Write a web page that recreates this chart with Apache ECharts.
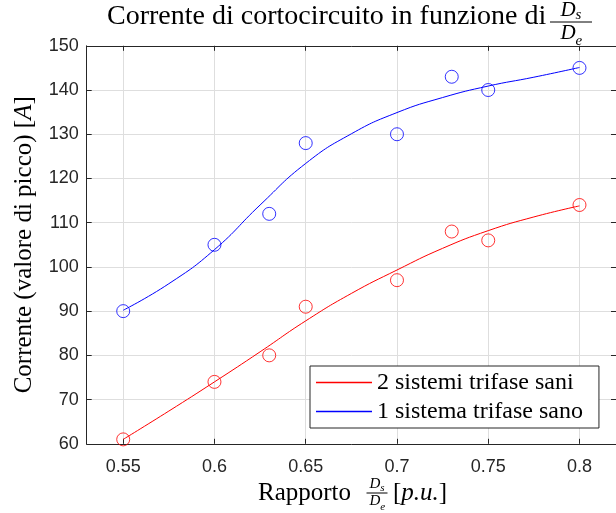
<!DOCTYPE html>
<html>
<head>
<meta charset="utf-8">
<script src="https://cdn.jsdelivr.net/npm/echarts@6/dist/echarts.min.js"></script>
<style>
  html, body { margin: 0; padding: 0; background: #fff; }
  #chart { width: 616px; height: 513px; }
</style>
</head>
<body>
<div id="chart"></div>
<script>
// Measured short-circuit peak currents vs. the Ds/De ratio
const ratio = [0.55, 0.60, 0.63, 0.65, 0.70, 0.73, 0.75, 0.80];
const twoSystems = [61, 74, 80, 91, 97, 108, 106, 114];
const oneSystem = [90, 105, 112, 128, 130, 143, 140, 145];

// Fitted trend curves, sampled along the ratio axis
const fitRatio = [0.55, 0.575, 0.60, 0.625, 0.65, 0.675, 0.70, 0.725, 0.75, 0.775, 0.80];
const fitTwoSystems = [61.0, 67.4, 74.0, 80.8, 87.8, 94.0, 99.3, 104.2, 108.2, 111.3, 113.8];
const fitOneSystem = [90.2, 96.2, 103.9, 114.0, 123.4, 130.1, 134.9, 138.3, 140.9, 142.9, 145.1];

// Axis ticks
const xTicks = [0.55, 0.60, 0.65, 0.70, 0.75, 0.80];
const xTickLabels = ['0.55', '0.6', '0.65', '0.7', '0.75', '0.8'];

const seriesNames = ['2 sistemi trifase sani', '1 sistema trifase sano'];

const RED = '#ff0000';
const BLUE = '#0000ff';
const AXIS = '#262626';
const GRID = '#dedede';
const SERIF = '"Liberation Serif", "Times New Roman", serif';
const SANS = '"Liberation Sans", Arial, Helvetica, sans-serif';

const pairs = (xs, ys) => xs.map((x, i) => [x, ys[i]]);

// stacked D_s / D_e fraction built from text pieces
function fraction(cx, cy, size, barW) {
  const sub = Math.round(size * 0.7);
  const font = `italic ${size}px ${SERIF}`;
  const subFont = `italic ${sub}px ${SERIF}`;
  const dW = size * 0.72;
  const left = cx - (dW + sub * 0.4) / 2;
  return [
    { type: 'line', shape: { x1: cx - barW / 2, y1: cy, x2: cx + barW / 2, y2: cy },
      style: { stroke: '#000', lineWidth: 1 } },
    { type: 'text', x: left, y: cy - 1, style: { text: 'D', font, fill: '#000', verticalAlign: 'bottom' } },
    { type: 'text', x: left + dW, y: cy + 1, style: { text: 's', font: subFont, fill: '#000', verticalAlign: 'bottom' } },
    { type: 'text', x: left, y: cy + 1, style: { text: 'D', font, fill: '#000', verticalAlign: 'top' } },
    { type: 'text', x: left + dW, y: cy + size * 0.55, style: { text: 'e', font: subFont, fill: '#000', verticalAlign: 'top' } }
  ];
}

const chart = echarts.init(document.getElementById('chart'), null, { renderer: 'canvas' });

const xCommon = {
  type: 'value', min: 0.53, max: 0.82,
  axisLine: { show: true, lineStyle: { color: AXIS, width: 1 } },
  axisTick: { show: true, inside: true, length: 5, customValues: xTicks, lineStyle: { color: AXIS } }
};
const yCommon = {
  type: 'value', min: 60, max: 150, interval: 10,
  axisLine: { show: true, lineStyle: { color: AXIS, width: 1 } },
  axisTick: { show: true, inside: true, length: 5, lineStyle: { color: AXIS } }
};

chart.setOption({
  animation: false,
  backgroundColor: '#fff',
  grid: { left: 86.7, top: 45.8, width: 531, height: 398, containLabel: false },
  xAxis: [
    Object.assign({}, xCommon, {
      position: 'bottom',
      axisLabel: {
        show: true, customValues: xTicks, margin: 14,
        formatter: v => xTickLabels[xTicks.findIndex(t => Math.abs(t - v) < 1e-9)],
        color: AXIS, fontFamily: SANS, fontSize: 18
      },
      splitLine: { show: true, lineStyle: { color: GRID, width: 1 } }
    }),
    Object.assign({}, xCommon, {
      position: 'top',
      axisLabel: { show: false },
      splitLine: { show: false }
    })
  ],
  yAxis: [
    Object.assign({}, yCommon, {
      position: 'left',
      name: '{n|Corrente (valore di picco) [}{i|A}{n|]}',
      nameLocation: 'middle', nameGap: 50, nameRotate: 90,
      nameTextStyle: {
        rich: {
          n: { fontFamily: SERIF, fontSize: 25, color: '#000' },
          i: { fontFamily: SERIF, fontSize: 25, fontStyle: 'italic', color: '#000' }
        }
      },
      axisLabel: { show: true, margin: 8, color: AXIS, fontFamily: SANS, fontSize: 18 },
      splitLine: { show: true, lineStyle: { color: GRID, width: 1 } }
    }),
    Object.assign({}, yCommon, {
      position: 'right',
      axisLabel: { show: false },
      splitLine: { show: false }
    })
  ],
  legend: {
    orient: 'vertical',
    left: 310, top: 366,
    data: seriesNames.map(n => ({ name: n, icon: 'rect' })),
    itemWidth: 56, itemHeight: 1.4, itemGap: 4,
    padding: [4, 16, 4, 6],
    backgroundColor: '#fff',
    borderColor: AXIS, borderWidth: 1,
    textStyle: { fontFamily: SERIF, fontSize: 24, lineHeight: 25, color: '#000' },
    selectedMode: false
  },
  series: [
    {
      name: seriesNames[0], type: 'line', data: pairs(fitRatio, fitTwoSystems),
      smooth: 0.5, showSymbol: false, symbol: 'none',
      lineStyle: { color: RED, width: 1 }, itemStyle: { color: RED }, z: 3
    },
    {
      name: seriesNames[1], type: 'line', data: pairs(fitRatio, fitOneSystem),
      smooth: 0.5, showSymbol: false, symbol: 'none',
      lineStyle: { color: BLUE, width: 1 }, itemStyle: { color: BLUE }, z: 3
    },
    {
      name: 'misure 2', type: 'scatter', data: pairs(ratio, twoSystems),
      symbol: 'circle', symbolSize: 13,
      itemStyle: { color: 'rgba(0,0,0,0)', borderColor: RED, borderWidth: 1 }, z: 2
    },
    {
      name: 'misure 1', type: 'scatter', data: pairs(ratio, oneSystem),
      symbol: 'circle', symbolSize: 13,
      itemStyle: { color: 'rgba(0,0,0,0)', borderColor: BLUE, borderWidth: 1 }, z: 2
    }
  ],
  graphic: [
    { type: 'text', x: 107, y: 17,
      style: { text: 'Corrente di cortocircuito in funzione di', font: `28px ${SERIF}`, fill: '#000', verticalAlign: 'middle' } },
    ...fraction(571, 22, 21, 42),
    { type: 'text', x: 258, y: 493,
      style: { text: 'Rapporto', font: `25px ${SERIF}`, fill: '#000', verticalAlign: 'middle' } },
    ...fraction(377, 493, 15, 21),
    { type: 'text', x: 393, y: 493,
      style: {
        text: '{n|[}{i|p.u.}{n|]}', verticalAlign: 'middle',
        rich: {
          n: { fontFamily: SERIF, fontSize: 25, color: '#000' },
          i: { fontFamily: SERIF, fontSize: 25, fontStyle: 'italic', color: '#000' }
        }
      } }
  ]
});
</script>
</body>
</html>
